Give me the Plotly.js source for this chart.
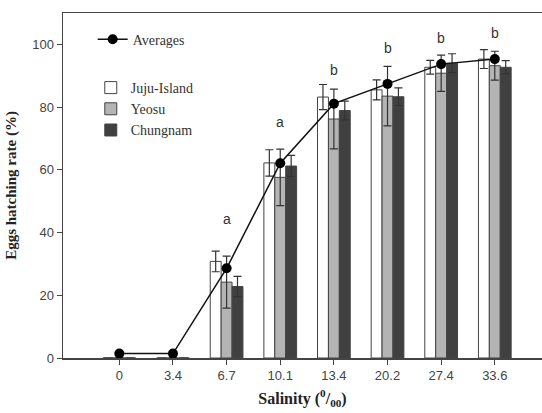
<!DOCTYPE html>
<html>
<head>
<meta charset="utf-8">
<script src="https://cdn.plot.ly/plotly-3.0.1.min.js"></script>
<style>html,body{margin:0;padding:0;background:#fff;}#chart{width:542px;height:413px;}</style>
</head>
<body>
<div id="chart"></div>
<script>
const categories = ['0', '3.4', '6.7', '10.1', '13.4', '20.2', '27.4', '33.6'];
const jujuIsland = [0, 0, 30.8, 62.2, 83.2, 85.5, 92.7, 95.3];
const jujuErr = [0, 0, 3.3, 4.2, 4.0, 3.2, 2.2, 3.0];
const yeosu = [0, 0, 24.2, 57.6, 76.2, 83.5, 90.8, 93.2];
const yeosuErr = [0, 0, 8.3, 9.0, 9.5, 9.5, 5.8, 4.6];
const chungnam = [0, 0, 22.8, 61.2, 78.9, 83.3, 94.0, 92.7];
const chungnamErr = [0, 0, 3.2, 3.4, 3.0, 2.8, 3.0, 2.1];
const averages = [1.4, 1.4, 28.6, 62.1, 81.1, 87.4, 93.7, 95.3];
const letters = ['', '', 'a', 'a', 'b', 'b', 'b', 'b'];
const letterY = [null, null, 44.4, 75.2, 91.8, 98.7, 101.9, 103.6];
const yTicks = [0, 20, 40, 60, 80, 100];

const serif = 'Liberation Serif, Times New Roman, serif';
const sans = 'Liberation Sans, Arial, sans-serif';
const errStyle = {type: 'data', visible: true, color: '#333', thickness: 1.2, width: 4};

function barTrace(name, vals, errs, color) {
  return {
    type: 'bar', name: name, x: categories, y: vals,
    marker: {color: color, line: {color: '#444', width: 1}},
    error_y: Object.assign({array: errs}, errStyle),
    legend: 'legend2'
  };
}

const traces = [
  barTrace('Juju-Island', jujuIsland, jujuErr, '#ffffff'),
  barTrace('Yeosu', yeosu, yeosuErr, '#b4b4b4'),
  barTrace('Chungnam', chungnam, chungnamErr, '#404040'),
  {
    type: 'scatter', mode: 'lines+markers', name: 'Averages', x: categories, y: averages,
    line: {color: '#111', width: 1.5}, marker: {color: '#000', size: 10},
    legend: 'legend'
  }
];

const annotations = [];
for (let i = 0; i < categories.length; i++) {
  if (letters[i]) {
    annotations.push({x: i, y: letterY[i], xref: 'x', yref: 'y', text: letters[i], showarrow: false,
      font: {family: sans, size: 14, color: '#333'}, xanchor: 'center', yanchor: 'middle'});
  }
}

const layout = {
  width: 542, height: 413,
  margin: {l: 63, r: 0, t: 13, b: 55},
  paper_bgcolor: '#fff', plot_bgcolor: '#fff',
  barmode: 'group', bargap: 0.39, bargroupgap: 0,
  showlegend: true,
  legend: {x: 0.062, y: 0.969, xanchor: 'left', yanchor: 'top', bgcolor: 'rgba(0,0,0,0)',
    font: {family: serif, size: 14, color: '#333'}},
  legend2: {x: 0.058, y: 0.829, xanchor: 'left', yanchor: 'top', bgcolor: 'rgba(0,0,0,0)',
    font: {family: serif, size: 14, color: '#333'}, tracegroupgap: 0},
  xaxis: {
    type: 'category', range: [-1.05, 7.88],
    showline: true, linecolor: '#444', linewidth: 1.5, mirror: true,
    ticks: 'outside', ticklen: 5, tickcolor: '#444',
    tickfont: {family: sans, size: 13, color: '#444'},
    showgrid: false, zeroline: false,
    title: {text: 'Salinity (<sup>0</sup>/<sub>00</sub>)', font: {family: serif, size: 16, color: '#222', weight: 'bold'}, standoff: 10}
  },
  yaxis: {
    range: [0, 110], tickvals: yTicks,
    showline: true, linecolor: '#444', linewidth: 1.5, mirror: true,
    ticks: 'outside', ticklen: 5, tickcolor: '#444',
    tickfont: {family: sans, size: 13, color: '#444'},
    showgrid: false, zeroline: false,
    title: {text: 'Eggs hatching rate (%)', font: {family: serif, size: 15, color: '#222', weight: 'bold'}, standoff: 12}
  },
  annotations: annotations
};

Plotly.newPlot('chart', traces, layout, {displayModeBar: false, staticPlot: true});
</script>
</body>
</html>
